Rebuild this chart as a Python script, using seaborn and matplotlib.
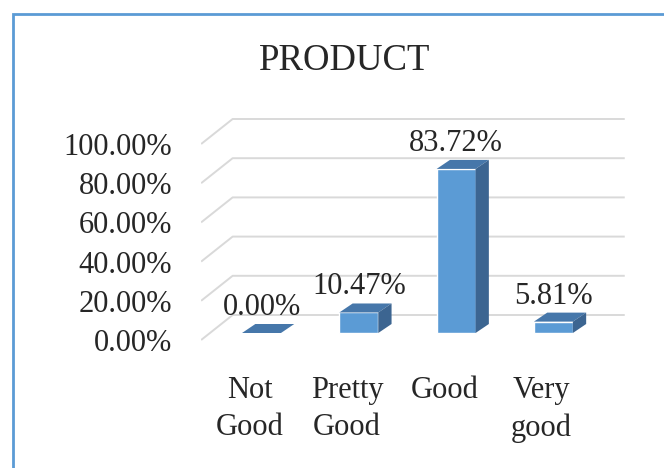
import matplotlib
matplotlib.use("Agg")
import matplotlib.pyplot as plt
from matplotlib.patches import Polygon, Rectangle
import seaborn as sns

# chart data
categories = ["Not\nGood", "Pretty\nGood", "Good", "Very\ngood"]
shares = [0.00, 10.47, 83.72, 5.81]
y_ticks = [0, 20, 40, 60, 80, 100]
title = "PRODUCT"

FRONT = "#5B9BD5"
TOP = "#4677AA"
SIDE = "#3C6591"
GRID = "#D9D9D9"
BORDER = "#5B9BD5"

# pixel geometry of the fake 3D view
W, H = 664, 468
PX_CAT = 97.3     # pixels per category slot
PX_PCT = 1.96     # pixels per percent
X0_PX, Y0_PX = 261.5, 333   # first bar centre / bar floor (image px)

BACK = (22.7 / PX_CAT, 18 / PX_PCT)         # bar plane -> back wall
FRONT_EDGE = (-8.8 / PX_CAT, -7 / PX_PCT)   # bar plane -> front edge
BAR_DEPTH = (13.3 / PX_CAT, 9 / PX_PCT)     # depth of each column
BAR_W = 0.4
SLOT_L, SLOT_R = -0.53, 3.5

sns.set_style("white")
plt.rcParams["font.family"] = ["Liberation Serif", "DejaVu Serif"]

fig = plt.figure(figsize=(W / 100, H / 100), dpi=100)
xlim = (-0.62, 3.76)
ylim = (-6, 112)
left = (X0_PX + PX_CAT * xlim[0]) / W
right = (X0_PX + PX_CAT * xlim[1]) / W
bottom = (H - (Y0_PX - PX_PCT * ylim[0])) / H
top = (H - (Y0_PX - PX_PCT * ylim[1])) / H
ax = fig.add_axes([left, bottom, right - left, top - bottom])

# walls: gridlines on back wall plus diagonal on the side wall
for v in y_ticks:
    xs = [SLOT_L + FRONT_EDGE[0], SLOT_L + BACK[0], SLOT_R + BACK[0]]
    ys = [v + FRONT_EDGE[1], v + BACK[1], v + BACK[1]]
    ax.plot(xs, ys, color=GRID, lw=1.4, zorder=0, solid_capstyle="butt")

# front faces
sns.barplot(x=categories, y=shares, color=FRONT, width=BAR_W,
            saturation=1, ax=ax, zorder=2)

# top and side faces
dx, dy = BAR_DEPTH
for i, v in enumerate(shares):
    x0, x1 = i - BAR_W / 2, i + BAR_W / 2
    top_face = [(x0, v), (x1, v), (x1 + dx, v + dy), (x0 + dx, v + dy)]
    ax.add_patch(Polygon(top_face, closed=True, fc=TOP, ec="none", zorder=3))
    if v > 0:
        side_face = [(x1, 0), (x1, v), (x1 + dx, v + dy), (x1 + dx, dy)]
        ax.add_patch(Polygon(side_face, closed=True, fc=SIDE, ec="none", zorder=3))

ax.bar_label(ax.containers[0], labels=[f"{v:.2f}%" for v in shares],
             padding=8, fontsize=22)

ax.set_xlim(*xlim)
ax.set_ylim(*ylim)
ax.set_yticks([v + FRONT_EDGE[1] for v in y_ticks])
ax.set_yticklabels([f"{v:.2f}%" for v in y_ticks], fontsize=22)
ax.set_xticks([i + (SLOT_L + 0.5) + FRONT_EDGE[0] for i in range(len(categories))])
ax.set_xticklabels(categories, fontsize=22, linespacing=1.38)
ax.tick_params(axis="y", length=0, pad=21)
ax.tick_params(axis="x", length=0, pad=22.5)
ax.set_xlabel("")
ax.set_ylabel("")
for s in ax.spines.values():
    s.set_visible(False)
ax.patch.set_alpha(0)

fig.text(345 / W, 1 - 61 / H, title, ha="center", va="center", fontsize=26.5)

fig.patches.append(Rectangle((13 / W, -0.1), 1.2, (H - 14) / H + 0.1,
                             transform=fig.transFigure, fill=False,
                             ec=BORDER, lw=2))

fig.savefig("out.png", dpi=100)
